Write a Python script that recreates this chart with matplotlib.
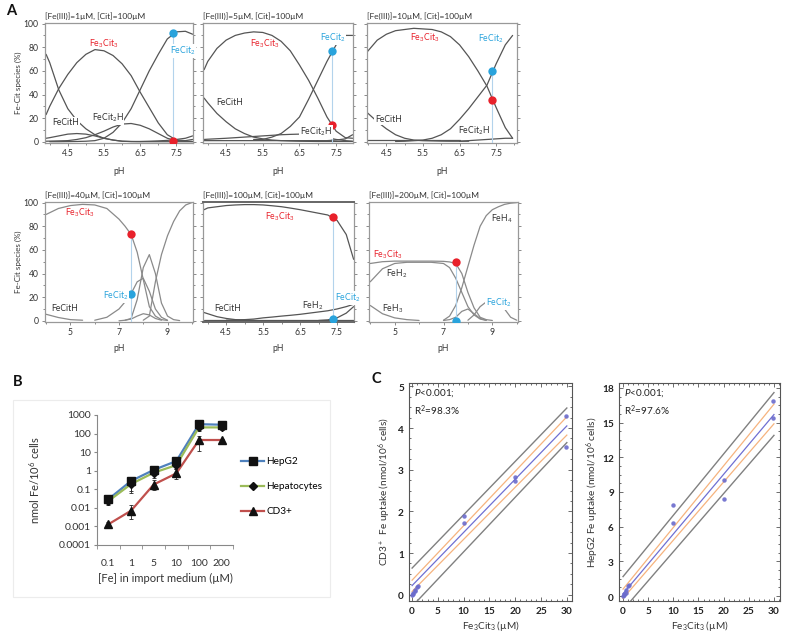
import numpy as np
import matplotlib
matplotlib.use("Agg")
import matplotlib.pyplot as plt
from matplotlib.ticker import MultipleLocator, FixedLocator, FixedFormatter, NullFormatter
from matplotlib.patches import Rectangle
from matplotlib.lines import Line2D

plt.rcParams['font.family'] = ['Lato', 'DejaVu Sans']
plt.rcParams['mathtext.fontset'] = 'custom'
plt.rcParams['mathtext.rm'] = 'Lato'
plt.rcParams['mathtext.it'] = 'Lato:italic'
plt.rcParams['mathtext.bf'] = 'Lato:bold'

nan = np.nan

# ---------------- Panel A data (speciation, % of Fe) ----------------
A_TITLES = ["[Fe(III)]=1µM, [Cit]=100µM", "[Fe(III)]=5µM, [Cit]=100µM",
            "[Fe(III)]=10µM, [Cit]=100µM", "[Fe(III)]=40µM, [Cit]=100µM",
            "[Fe(III)]=100µM, [Cit]=100µM", "[Fe(III)]=200µM, [Cit]=100µM"]

PH_ACID = [3.9, 4.0, 4.25, 4.5, 4.75, 5.0, 5.25, 5.5, 5.75, 6.0, 6.25, 6.5,
           6.75, 7.0, 7.25, 7.5, 7.75, 7.95]
PH_WIDE = [4.0, 4.5, 5.0, 5.5, 6.0, 6.5, 7.0, 7.25, 7.5, 7.75, 8.0, 8.25,
           8.5, 8.75, 9.0, 9.25, 9.5, 9.75, 10.0]

A1_FE3CIT3 = [23, 30, 45, 57, 67, 74, 78, 77, 73, 66, 56, 42, 29, 16, 6, 1.5, 1, 2]
A1_FECIT2 = [nan, 0.1, 0.1, 0.2, 0.3, 0.5, 1, 3, 8, 16, 28, 44, 60, 74, 87, 93, 93.5, 91]
A1_FECITH = [74, 67, 44, 28, 18, 11, 6, 3, 1.5, 0.5, 0.2, 0.1, 0.1, 0.1, 0.1, 0.1, 0.1, 0.1]
A1_FECIT2H = [0.5, 0.6, 0.8, 1, 2, 3.5, 6, 9, 12.5, 15, 15.5, 14, 11, 7, 3, 1, 0.5, 0.3]
A1_MINOR = [3, 3.5, 5, 6.5, 7, 6.5, 5, 3, 1.5, 0.5, 0.3, 0.3, 0.5, 0.8, 1.2, 2, 3, 5]

A2_FE3CIT3 = [61, 68, 79, 86, 90, 92, 93, 92.5, 90, 85, 77, 65, 52, 37, 21, 9, 3.5, 3]
A2_FECIT2 = [nan, nan, nan, nan, nan, nan, 2, 2, 4, 7, 13, 21, 36, 52, 68, 82, 90, 90]
A2_FECITH = [37, 33, 24, 17, 11, 7, 4, 2.5, 1.5, 1, 0.7, 0.5, 0.4, 0.3, 0.3, 0.3, 0.3, 0.3]
A2_FECIT2H = [2, 2.2, 2.6, 3, 3.5, 4, 4.5, 5, 5.5, 6, 6.3, 6.5, 6, 5, 3.5, 2, 1, 0.5]
A2_MINOR = [1, 1, 1, 1, 1, 1, 1, 1, 1, 1, 1, 1, 1, 1, 1, 1.5, 2.5, 6]

A3_FE3CIT3 = [73, 77, 86, 91, 94, 95, 96, 95.5, 95, 93, 89, 82, 72, 60, 47, 29, 12, 3]
A3_FECIT2 = [nan, nan, nan, nan, 0.3, 0.5, 1, 1.5, 3, 6, 11, 19, 28, 38, 48, 66, 82, 90]
A3_FECITH = [27, 24, 17, 11, 6, 3, 1.5, 1, 0.8, 0.6, 0.5, 0.5, 0.5, nan, nan, nan, nan, nan]
A3_FECIT2H = [nan, nan, nan, nan, nan, nan, nan, nan, nan, nan, nan, 0.5, 1, 1.5, 2, 2.5, 3, 3]
A3_MINOR = [1.5, 1.5, 1.5, 1.5, 1.5, 1.5, 1.5, 1.5, 1.5, 1.5, 1.5, 1.5, nan, nan, nan, nan, nan, nan]

A4_FE3CIT3 = [90, 95, 97.5, 98.5, 98, 95, 86, 80, 73, 58, 35, 12, 4, 1, 0.3, nan, nan, nan, nan]
A4_FECIT2 = [nan, nan, nan, nan, 0.5, 3, 10, 16, 23, 33, 36, 25, 10, 3, 0.5, nan, nan, nan, nan]
A4_FEOH = [nan, nan, nan, nan, nan, nan, 0, 0.5, 2, 18, 45, 56, 40, 15, 4, 1, 0.2, nan, nan]
A4_FEH4 = [nan, nan, nan, nan, nan, nan, nan, nan, nan, nan, 0.5, 4, 33, 56, 72, 84, 93, 98, 100]
A4_SMALL = [nan, nan, nan, nan, nan, nan, nan, 0.5, 1.5, 4, 6, 5, 2, 0.5, nan, nan, nan, nan, nan]
A4_FECITH = [5.5, 2.8, 1, 0.5, nan, nan, nan, nan, nan, nan, nan, nan, nan, nan, nan, nan, nan, nan, nan]

A5_FE3CIT3 = [94, 95.5, 96.5, 97.5, 98, 98.3, 98.3, 98, 97.3, 96.5, 95.3, 94, 92.5, 91, 89.5, 85, 73, 52]
A5_FEH2 = [nan, nan, nan, 0.5, 0.8, 1, 1.5, 2.5, 3.2, 4, 4.7, 5.5, 6.5, 7.5, 8.5, 10, 12, 14]
A5_FECITH = [7, 6, 3.5, 2, 1, 0.5, 0.3, nan, nan, nan, nan, nan, nan, nan, nan, nan, nan, nan]
A5_FECIT2 = [nan, nan, nan, nan, nan, nan, nan, nan, nan, nan, nan, nan, nan, 0.3, 0.8, 2.5, 6.5, 12]
A5_MINOR = [0.5, 0.5, 0.5, 0.5, 0.5, 0.5, 0.5, 0.5, 0.5, 0.5, 0.5, 0.5, 0.5, 0.5, 0.5, 0.5, 0.5, 0.5]

A6_FE3CIT3 = [48.5, 50, 50.5, 50.5, 50.5, 50.5, 50.3, 49.8, 48.5, 40, 24, 11, 3, 1, 0.3, nan, nan, nan, nan]
A6_FEH2 = [33, 44, 48.5, 49.5, 49.5, 49.5, 48.5, 45, 36, 24, 12, 5, 1.5, 0.3, nan, nan, nan, nan, nan]
A6_FEH3 = [13, 6, 2.5, 1, 0.3, nan, nan, nan, nan, nan, nan, nan, nan, nan, nan, nan, nan, nan, nan]
A6_FEH4 = [nan, nan, nan, nan, nan, nan, 0.5, 4, 13, 28, 46, 64, 80, 89, 94, 96.5, 98.5, 99.5, 100]
A6_FECIT2 = [nan, nan, nan, nan, nan, nan, nan, nan, nan, nan, 0.5, 5, 12, 16, 17, 16, 10, 3, 0.5]
A6_MINOR = [nan, nan, nan, nan, nan, nan, 0.3, 1, 3, 8, 10, 6, 2, 0.5, nan, nan, nan, nan, nan]

DOT_PH = [7.4, 7.4, 7.4, 7.5, 7.4, 7.5]
RED_DOT = [1, 14.5, 35, 73.5, 88, 49.4]
BLUE_DOT = [92, 77, 60, 23, 1.5, 0]

# ---------------- Panel B data ----------------
B_CATS = ['0.1', '1', '5', '10', '100', '200']
B_YTICKS = [0.0001, 0.001, 0.01, 0.1, 1, 10, 100, 1000]
B_YLABELS = ['0.0001', '0.001', '0.01', '0.1', '1', '10', '100', '1000']
B_HEPG2 = [0.029, 0.28, 1.1, 3.3, 320, 300]
B_HEPG2_LO = [0.018, 0.08, 0.6, 1.8, 180, 170]
B_HEPG2_HI = [0.04, 0.4, 1.5, 4.5, 400, 380]
B_HEPATO = [0.023, 0.19, 0.78, 2.0, 215, 215]
B_HEPATO_LO = [0.014, 0.06, 0.4, 1.2, 130, 150]
B_HEPATO_HI = [0.035, 0.3, 1.2, 3.0, 300, 280]
B_CD3 = [0.0013, 0.007, 0.18, 0.72, 45, 45]
B_CD3_LO = [0.0009, 0.0025, 0.09, 0.35, 12, 38]
B_CD3_HI = [0.0018, 0.015, 0.3, 1.2, 75, 52]

# ---------------- Panel C data ----------------
C_X = [0, 0.1, 0.2, 0.5, 0.5, 1.0, 1.2, 10, 10, 20, 20, 29.8, 29.8]
C_CD3 = [0.0, 0.02, 0.05, 0.08, 0.12, 0.18, 0.22, 1.9, 1.72, 2.82, 2.72, 4.28, 3.55]
C_HEPG2 = [0.0, 0.1, 0.2, 0.3, 0.55, 0.85, 0.95, 7.9, 6.3, 10.0, 8.4, 16.9, 15.4]
C_LINE_X = [0, 30]
C_CD3_FIT = [0.22, 4.05]
C_CD3_CI_LO = [0.08, 3.83]
C_CD3_CI_HI = [0.35, 4.27]
C_CD3_PI_LO = [-0.28, 3.65]
C_CD3_PI_HI = [0.64, 4.48]
C_HEPG2_FIT = [0.2, 15.7]
C_HEPG2_CI_LO = [-0.2, 14.9]
C_HEPG2_CI_HI = [0.6, 16.6]
C_HEPG2_PI_LO = [-1.2, 13.9]
C_HEPG2_PI_HI = [1.68, 17.6]
C_XTICKS = [0, 5, 10, 15, 20, 25, 30]
C_CD3_YTICKS = [0, 1, 2, 3, 4, 5]
C_HEPG2_YTICKS = [0, 3, 6, 9, 12, 15, 18]

RED = '#e8212b'
BLUE = '#29a3dc'
TXT = '#333333'

W, H = 787, 639
fig = plt.figure(figsize=(W / 100, H / 100), dpi=100)
fig.patch.set_facecolor('white')


def ax_px(x0, y0, x1, y1):
    return fig.add_axes([x0 / W, 1 - y1 / H, (x1 - x0) / W, (y1 - y0) / H])


def style_a(ax, xlim, xmaj, xminor, ylabels, title, xpad):
    ax.set_xlim(*xlim)
    ax.set_ylim(-1, 100.5)
    ax.xaxis.set_major_locator(FixedLocator(xmaj))
    ax.xaxis.set_minor_locator(MultipleLocator(xminor))
    ax.yaxis.set_major_locator(MultipleLocator(20))
    ax.yaxis.set_minor_locator(MultipleLocator(10))
    ax.tick_params(which='both', direction='out', length=2, width=0.6,
                   colors='#777', labelsize=6.2, labelcolor=TXT, pad=2.5)
    ax.tick_params(which='minor', length=1.2)
    ax.tick_params(axis='y', which='both', right=True)
    if not ylabels:
        ax.yaxis.set_major_formatter(NullFormatter())
    else:
        ax.set_ylabel('Fe-Cit species (%)', fontsize=5.8, color=TXT, labelpad=1)
    for s in ax.spines.values():
        s.set_color('#999999')
        s.set_linewidth(0.9)
    ax.set_xlabel('pH', fontsize=6.2, color=TXT, labelpad=xpad)
    ax.set_title(title, loc='left', fontsize=6, color=TXT, pad=3)


def draw_curves(ax, ph, curves, color='#555555'):
    for c in curves:
        ax.plot(ph, c, color=color, lw=0.9, solid_capstyle='round')


def draw_dots(ax, i):
    top = max(RED_DOT[i], BLUE_DOT[i])
    ax.plot([DOT_PH[i], DOT_PH[i]], [0, top], color='#b3d3ec', lw=0.8, zorder=3)
    ax.plot(DOT_PH[i], RED_DOT[i], 'o', color=RED, ms=6, zorder=5, mec='none')
    ax.plot(DOT_PH[i], BLUE_DOT[i], 'o', color=BLUE, ms=6, zorder=5, mec='none')


def lab(ax, x, y, s, color=TXT, bg=False):
    kw = dict(fontsize=6.2, color=color, ha='center', va='center', zorder=6)
    if bg:
        kw['bbox'] = dict(facecolor='white', edgecolor='none', pad=0.5)
    ax.text(x, y, s, **kw)


FE3 = r'Fe$_3$Cit$_3$'
FEC2 = r'FeCit$_2$'
FEC2H = r'FeCit$_2$H'

acid_ticks = [4.5, 5.5, 6.5, 7.5]
wide_ticks = [5, 7, 9]

# A1
ax = ax_px(45, 23, 193, 143)
style_a(ax, (3.87, 7.96), acid_ticks, 0.5, True, A_TITLES[0], 6)
draw_curves(ax, PH_ACID, [A1_FE3CIT3, A1_FECIT2, A1_FECITH, A1_FECIT2H, A1_MINOR])
draw_dots(ax, 0)
lab(ax, 5.5, 83, FE3, RED)
lab(ax, 7.67, 77, FEC2, BLUE, bg=True)
lab(ax, 4.45, 16.5, 'FeCitH', bg=True)
lab(ax, 5.6, 20, FEC2H, bg=True)

# A2
ax = ax_px(203, 23, 353, 143)
style_a(ax, (3.87, 7.96), acid_ticks, 0.5, False, A_TITLES[1], 6)
draw_curves(ax, PH_ACID, [A2_FE3CIT3, A2_FECIT2, A2_FECITH, A2_FECIT2H, A2_MINOR])
draw_dots(ax, 1)
lab(ax, 5.55, 83, FE3, RED)
lab(ax, 7.4, 88, FEC2, BLUE, bg=True)
lab(ax, 4.6, 33, 'FeCitH', bg=True)
lab(ax, 6.95, 8.5, FEC2H, bg=True)

# A3
ax = ax_px(367, 23, 517, 143)
style_a(ax, (3.97, 8.07), acid_ticks, 0.5, False, A_TITLES[2], 6)
draw_curves(ax, PH_ACID, [A3_FE3CIT3, A3_FECIT2, A3_FECITH, A3_FECIT2H, A3_MINOR])
draw_dots(ax, 2)
lab(ax, 5.55, 88, FE3, RED)
lab(ax, 7.35, 87, FEC2, BLUE)
lab(ax, 4.55, 19, 'FeCitH', bg=True)
lab(ax, 6.9, 9.5, FEC2H, bg=True)

# A4
ax = ax_px(45, 202, 193, 322)
style_a(ax, (3.95, 10.05), wide_ticks, 1, True, A_TITLES[3], 5)
draw_curves(ax, PH_WIDE, [A4_FE3CIT3, A4_FECIT2, A4_FEOH, A4_FEH4, A4_SMALL, A4_FECITH], '#8a8a8a')
draw_dots(ax, 3)
lab(ax, 5.4, 91, FE3, RED)
lab(ax, 6.85, 21, FEC2, BLUE, bg=True)
lab(ax, 4.75, 10, 'FeCitH')

# A5
ax = ax_px(203, 202, 354, 322)
style_a(ax, (3.87, 7.96), acid_ticks, 0.5, False, A_TITLES[4], 5)
draw_curves(ax, PH_ACID, [A5_FE3CIT3, A5_FEH2, A5_FECITH, A5_FECIT2, A5_MINOR])
for s in ('top', 'bottom'):
    ax.spines[s].set_color('#666666')
    ax.spines[s].set_linewidth(1.4)
draw_dots(ax, 4)
lab(ax, 5.95, 88, FE3, RED)
lab(ax, 4.55, 10, 'FeCitH')
lab(ax, 6.85, 13, r'FeH$_2$')
lab(ax, 7.8, 19.5, FEC2, BLUE, bg=True)

# A6
ax = ax_px(369, 202, 518, 322)
style_a(ax, (3.95, 10.05), wide_ticks, 1, False, A_TITLES[5], 5)
draw_curves(ax, PH_WIDE, [A6_FE3CIT3, A6_FEH2, A6_FEH3, A6_FEH4, A6_FECIT2, A6_MINOR], '#8a8a8a')
draw_dots(ax, 5)
lab(ax, 4.7, 56, FE3, RED)
lab(ax, 5.1, 40, r'FeH$_2$')
lab(ax, 4.9, 10, r'FeH$_3$')
lab(ax, 9.4, 86, r'FeH$_4$')
lab(ax, 9.25, 15, FEC2, BLUE, bg=True)

# ---------------- Panel B ----------------
fig.add_artist(Rectangle((13 / W, 1 - 597 / H), 317 / W, 197 / H, transform=fig.transFigure,
                         facecolor='none', edgecolor='#ececec', lw=0.8))
axb = ax_px(97, 415, 233, 545)
xb = np.arange(len(B_CATS))
series = [(B_HEPG2, B_HEPG2_LO, B_HEPG2_HI, '#4f81bd', 's', 'HepG2'),
          (B_HEPATO, B_HEPATO_LO, B_HEPATO_HI, '#9bbb59', 'D', 'Hepatocytes'),
          (B_CD3, B_CD3_LO, B_CD3_HI, '#c0504d', '^', 'CD3+')]
handles = []
for vals, lo, hi, col, mk, name in series:
    v = np.array(vals)
    yerr = np.vstack([v - np.array(lo), np.array(hi) - v])
    axb.errorbar(xb, v, yerr=yerr, fmt='none', ecolor='#222', elinewidth=0.6, capsize=1.5, capthick=0.6, zorder=2)
    axb.plot(xb, v, color=col, lw=1.6, zorder=3)
    ms = 5.5 if mk != 'D' else 4
    axb.plot(xb, v, linestyle='none', marker=mk, ms=ms, mfc='#111', mec='#111', zorder=4)
    handles.append(Line2D([0], [0], color=col, lw=1.6, marker=mk, ms=ms, mfc='#111', mec='#111'))
axb.set_yscale('log')
axb.set_ylim(1e-4, 1e3)
axb.set_xlim(-0.5, len(B_CATS) - 0.5)
axb.yaxis.set_major_locator(FixedLocator(B_YTICKS))
axb.yaxis.set_major_formatter(FixedFormatter(B_YLABELS))
axb.yaxis.set_minor_locator(FixedLocator([]))
axb.set_xticks(xb, B_CATS)
axb.xaxis.set_minor_locator(FixedLocator(np.arange(len(B_CATS) + 1) - 0.5))
axb.tick_params(axis='x', which='major', length=0, labelsize=7.5, labelcolor=TXT, pad=10)
axb.tick_params(axis='x', which='minor', length=3, color='#888')
axb.tick_params(axis='y', which='major', length=2.5, color='#888', labelsize=7.5, labelcolor=TXT, pad=2)
for s in ('top', 'right'):
    axb.spines[s].set_visible(False)
for s in ('left', 'bottom'):
    axb.spines[s].set_color('#888888')
    axb.spines[s].set_linewidth(0.8)
axb.set_ylabel('nmol Fe/10$^6$ cells', fontsize=8, color=TXT, labelpad=12)
axb.set_xlabel('[Fe] in import medium (µM)', fontsize=8, color=TXT, labelpad=4)
axb.legend(handles, [s[5] for s in series], loc='center left', bbox_to_anchor=(1.03, 0.45),
           frameon=False, fontsize=7.2, labelspacing=1.6, handlelength=2.3, handletextpad=0.2,
           borderaxespad=0)

# ---------------- Panel C ----------------
def bold_labels(vals):
    return [r'$\mathbf{%s}$' % v for v in vals]


def style_c(ax, xlim, ylim, yticks, ymin, ylabel, lpad):
    ax.set_xlim(*xlim)
    ax.set_ylim(*ylim)
    ax.set_xticks(C_XTICKS, bold_labels(C_XTICKS))
    ax.set_yticks(yticks, bold_labels(yticks))
    ax.xaxis.set_minor_locator(MultipleLocator(1))
    ax.yaxis.set_minor_locator(MultipleLocator(ymin))
    ax.tick_params(which='both', direction='in', top=True, right=True, color='#555', width=0.6)
    ax.tick_params(which='major', length=3, labelsize=7.2, labelcolor='#222', pad=3)
    ax.tick_params(which='minor', length=1.6)
    for s in ax.spines.values():
        s.set_color('#555555')
        s.set_linewidth(0.8)
    ax.set_xlabel(r'Fe$_3$Cit$_3$ (µM)', fontsize=7.2, color=TXT, labelpad=2)
    ax.set_ylabel(ylabel, fontsize=7.2, color=TXT, labelpad=lpad)


def draw_c(ax, y, fit, cilo, cihi, pilo, pihi, r2):
    ax.plot(C_LINE_X, pihi, color='#808080', lw=1.0)
    ax.plot(C_LINE_X, pilo, color='#808080', lw=1.0)
    ax.plot(C_LINE_X, cihi, color='#f6b37e', lw=0.9)
    ax.plot(C_LINE_X, cilo, color='#f6b37e', lw=0.9)
    ax.plot(C_LINE_X, fit, color='#6f6fd2', lw=0.9)
    ax.plot(C_X, y, 'o', color='#6b6bcc', ms=3.2, mec='none', alpha=0.9)
    ax.text(0.03, 0.955, r'$\mathit{P}$<0.001;', transform=ax.transAxes, fontsize=7.2, color='#222', va='center')
    ax.text(0.03, 0.875, 'R$^2$=' + r2, transform=ax.transAxes, fontsize=7.2, color='#222', va='center')


axc1 = ax_px(409, 383, 572, 601)
draw_c(axc1, C_CD3, C_CD3_FIT, C_CD3_CI_LO, C_CD3_CI_HI, C_CD3_PI_LO, C_CD3_PI_HI, '98.3%')
style_c(axc1, (-0.6, 31), (-0.15, 5.08), C_CD3_YTICKS, 0.25, r'CD3$^+$  Fe uptake (nmol/10$^6$ cells)', 3)

axc2 = ax_px(619, 383, 780, 601)
draw_c(axc2, C_HEPG2, C_HEPG2_FIT, C_HEPG2_CI_LO, C_HEPG2_CI_HI, C_HEPG2_PI_LO, C_HEPG2_PI_HI, '97.6%')
style_c(axc2, (-0.8, 31.2), (-0.43, 18.43), C_HEPG2_YTICKS, 0.75, r'HepG2 Fe uptake (nmol/10$^6$ cells)', 0.5)

# panel letters
fig.text(6 / W, 1 - 11 / H, 'A', fontsize=10.5, fontweight='bold', va='center', color='#111')
fig.text(13 / W, 1 - 382 / H, 'B', fontsize=10.5, fontweight='bold', va='center', color='#111')
fig.text(372 / W, 1 - 379 / H, 'C', fontsize=10.5, fontweight='bold', va='center', color='#111')

fig.canvas.draw()
fig.savefig('out.png', dpi=100)
